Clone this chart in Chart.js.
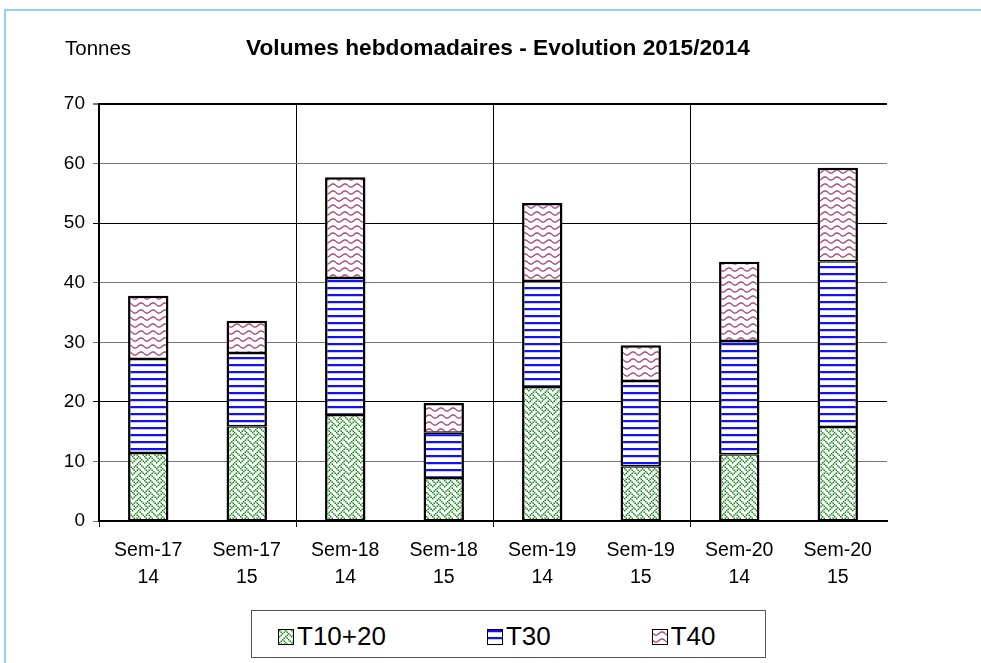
<!DOCTYPE html>
<html>
<head>
<meta charset="utf-8">
<script src="https://cdn.jsdelivr.net/npm/chart.js@4.4.0/dist/chart.umd.min.js"></script>
<style>
  body { margin: 0; background: #fff; font-family: "Liberation Sans", Arial, sans-serif; }
  #wrap { position: relative; width: 981px; height: 663px; overflow: hidden; }
  #frame { position: absolute; left: 4px; top: 9px; width: 1000px; height: 700px;
           border-top: 2px solid #8fd4f0; border-left: 2px solid #8fd4f0; }
  #c { position: absolute; left: 0; top: 0; }
  #legend { position: absolute; left: 251px; top: 610px; width: 515px; height: 48px;
            border: 1px solid #555; display: flex; align-items: center;
            padding-left: 26px; padding-top: 5px; box-sizing: border-box; gap: 101px; background: #fff; }
  .item { display: flex; align-items: center; font-size: 26px; color: #000; }
  .item canvas { border: 1px solid #000; margin-right: 3px; }
</style>
</head>
<body>
<div id="wrap">
  <div id="frame"></div>
  <canvas id="c" width="981" height="663"></canvas>
  <div id="legend"></div>
</div>
<script>
// weeks and years shown under each bar
const weeks = ["Sem-17", "Sem-17", "Sem-18", "Sem-18", "Sem-19", "Sem-19", "Sem-20", "Sem-20"];
const years = ["14", "15", "14", "15", "14", "15", "14", "15"];

// tonnes per category (stacked)
const t1020 = [11.4, 15.9, 17.8, 7.2, 22.5, 9.2, 11.2, 15.8];
const t30   = [15.8, 12.3, 23.0, 7.6, 17.8, 14.3, 19.0, 27.8];
const t40   = [10.6, 5.4, 16.9, 5.0, 13.1, 6.0, 13.3, 15.7];

const seriesNames = ["T10+20", "T30", "T40"];

// hatch patterns like the old excel fills
function weavePattern() {
  const bits = [0x88, 0x54, 0x22, 0x45, 0x88, 0x14, 0x22, 0x51];
  const c = document.createElement('canvas');
  c.width = 12; c.height = 12;
  const x = c.getContext('2d');
  x.fillStyle = '#fff';
  x.fillRect(0, 0, 12, 12);
  x.fillStyle = 'rgba(25,145,25,1)';
  for (let r = 0; r < 8; r++) {
    for (let k = 0; k < 8; k++) {
      if (bits[r] & (0x80 >> k)) x.fillRect(k * 1.5, r * 1.5, 1.5, 1.5);
    }
  }
  return x.createPattern(c, 'repeat');
}

function linePattern() {
  const c = document.createElement('canvas');
  c.width = 8; c.height = 7;
  const x = c.getContext('2d');
  x.fillStyle = '#fff';
  x.fillRect(0, 0, 8, 7);
  x.fillStyle = '#1010ff';
  x.fillRect(0, 0, 8, 2);
  x.fillStyle = '#c8c8ff';
  x.fillRect(0, 2, 8, 1);
  return x.createPattern(c, 'repeat');
}

function wavePattern() {
  const c = document.createElement('canvas');
  c.width = 12; c.height = 7;
  const x = c.getContext('2d');
  x.fillStyle = '#fff';
  x.fillRect(0, 0, 12, 7);
  x.strokeStyle = 'rgba(165,60,110,0.95)';
  x.lineWidth = 1.4;
  x.beginPath();
  for (let i = 0; i <= 12; i += 0.5) {
    const y = 3.5 + 1.6 * Math.sin(i / 12 * Math.PI * 2);
    if (i === 0) x.moveTo(i, y); else x.lineTo(i, y);
  }
  x.stroke();
  return x.createPattern(c, 'repeat');
}

const fills = [weavePattern(), linePattern(), wavePattern()];

// titles drawn on the canvas
const titlePlugin = {
  id: 'titles',
  afterDraw(chart) {
    const ctx = chart.ctx;
    ctx.save();
    ctx.fillStyle = '#000';
    ctx.textBaseline = 'middle';
    ctx.textAlign = 'left';
    ctx.font = '20.5px "Liberation Sans", Arial, sans-serif';
    ctx.fillText('Tonnes', 65, 49);
    ctx.textAlign = 'center';
    ctx.font = 'bold 22.7px "Liberation Sans", Arial, sans-serif';
    ctx.fillText('Volumes hebdomadaires - Evolution 2015/2014', 498, 49);
    ctx.restore();
  }
};

const inner = { top: 1.5, bottom: 1.5, left: 2.5, right: 2.5 };
const topSeg = { top: 2.5, bottom: 1.5, left: 2.5, right: 2.5 };

const ctx = document.getElementById('c').getContext('2d');
const chart = new Chart(ctx, {
  type: 'bar',
  data: {
    labels: weeks.map((w, i) => [w, years[i]]),
    datasets: [
      { label: seriesNames[0], data: t1020, backgroundColor: fills[0], borderWidth: inner },
      { label: seriesNames[1], data: t30, backgroundColor: fills[1], borderWidth: inner },
      { label: seriesNames[2], data: t40, backgroundColor: fills[2], borderWidth: topSeg }
    ].map(d => Object.assign(d, {
      borderColor: '#000', borderSkipped: false,
      categoryPercentage: 1, barPercentage: 0.41
    }))
  },
  options: {
    responsive: false,
    animation: false,
    layout: { padding: { left: 0, right: 94, top: 104, bottom: 0 } },
    plugins: { legend: { display: false }, tooltip: { enabled: false } },
    scales: {
      x: {
        stacked: true,
        afterFit(s) { s.height = 142; },
        grid: {
          offset: true,
          color: c => (c.index % 2 === 0 ? '#000' : 'rgba(0,0,0,0)'),
          tickColor: c => (c.index % 2 === 0 ? '#000' : 'rgba(0,0,0,0)'),
          tickLength: 6,
          lineWidth: c => (c.index === 8 ? 2 : 1)
        },
        border: { color: '#000', width: 2 },
        ticks: {
          color: '#000', maxRotation: 0, padding: 11,
          font: { family: '"Liberation Sans", Arial, sans-serif', size: 19.5, lineHeight: 1.34 }
        }
      },
      y: {
        stacked: true,
        min: 0, max: 70,
        afterFit(s) { s.width = 99; },
        grid: {
          color: c => ([20, 50, 70].includes(c.tick.value) ? '#000' : '#777'),
          tickColor: c => ([20, 50].includes(c.tick.value) ? '#000' : '#777'),
          tickLength: 6,
          lineWidth: c => (c.tick.value === 70 ? 2 : 1)
        },
        border: { color: '#000', width: 2 },
        ticks: {
          stepSize: 10, color: '#000', padding: 8,
          font: { family: '"Liberation Sans", Arial, sans-serif', size: 19 }
        }
      }
    }
  },
  plugins: [titlePlugin]
});

// html legend with pattern swatches
const leg = document.getElementById('legend');
seriesNames.forEach((name, i) => {
  const item = document.createElement('div');
  item.className = 'item';
  const sw = document.createElement('canvas');
  sw.width = 14; sw.height = 14;
  const sx = sw.getContext('2d');
  sx.fillStyle = fills[i];
  sx.fillRect(0, 0, 14, 14);
  const txt = document.createElement('span');
  txt.textContent = name;
  item.appendChild(sw);
  item.appendChild(txt);
  leg.appendChild(item);
});
</script>
</body>
</html>
